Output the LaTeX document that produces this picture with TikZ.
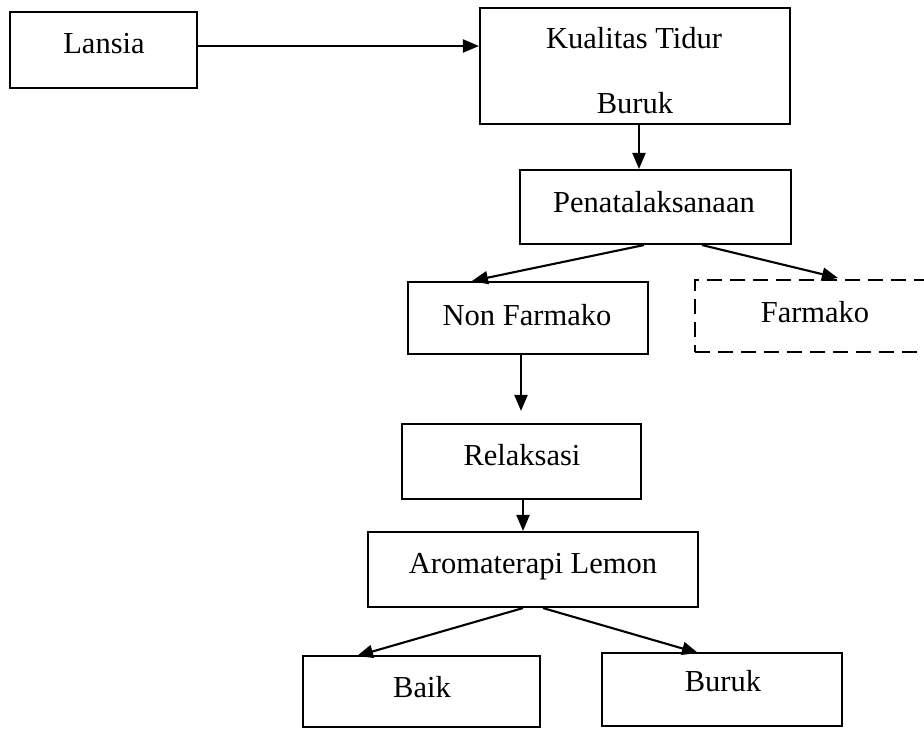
\documentclass[tikz,border=0pt]{standalone}
\usepackage{fontspec}
\setmainfont{Liberation Serif}
\usetikzlibrary{arrows.meta}
\begin{document}
\begin{tikzpicture}[x=1pt,y=-1pt,
  box/.style={draw, line width=2.1pt, rectangle, inner sep=0pt},
  dbox/.style={box, dash pattern=on 15pt off 8pt},
  lbl/.style={anchor=base, inner sep=0pt, font=\fontsize{30.5}{34}\selectfont},
  arr/.style={line width=2.1pt, -{Triangle[length=16pt,width=13pt]}}]
\useasboundingbox (0,0) rectangle (924,729);
\clip (0,0) rectangle (924,729);
\fill[white] (0,0) rectangle (924,729);
% boxes
\node[box, minimum width=187pt, minimum height=76pt] (lansia) at (103.5,50) {};
\node[box, minimum width=310pt, minimum height=116pt] (kual) at (635,66) {};
\node[box, minimum width=271pt, minimum height=74pt] (pena) at (655.5,207) {};
\node[box, minimum width=240pt, minimum height=72pt] (nonf) at (528,318) {};
\node[dbox, minimum width=265pt, minimum height=72pt] (farm) at (827.5,316) {};
\node[box, minimum width=239pt, minimum height=75pt] (relak) at (521.5,461.5) {};
\node[box, minimum width=330pt, minimum height=75pt] (aroma) at (533,569.5) {};
\node[box, minimum width=237pt, minimum height=71pt] (baik) at (421.5,691.5) {};
\node[box, minimum width=240pt, minimum height=73pt] (buruk) at (722,689.5) {};
% labels
\node[lbl] (tlansia) at (104,53) {Lansia};
\node[lbl] (tkual) at (634,48) {Kualitas Tidur};
\node[lbl] (tkual2) at (635,113) {Buruk};
\node[lbl] (tpena) at (654,212) {Penatalaksanaan};
\node[lbl] (tnonf) at (527,325) {Non Farmako};
\node[lbl] (tfarm) at (815,322) {Farmako};
\node[lbl] (trelak) at (522,465) {Relaksasi};
\node[lbl] (taroma) at (533,573) {Aromaterapi Lemon};
\node[lbl] (tbaik) at (422,697) {Baik};
\node[lbl] (tburuk) at (723,691) {Buruk};
% connectors
\coordinate (a1) at ([yshift=4pt]lansia.east);
\draw[arr] (a1) -- (a1 -| kual.west);
\coordinate (a2) at ([xshift=4pt]kual.south);
\draw[arr] (a2) -- (a2 |- pena.north);
\draw[arr] ([xshift=-11.5pt]pena.south) -- ([xshift=-56pt]nonf.north);
\draw[arr] ([xshift=46.5pt]pena.south) -- ([xshift=10.5pt,yshift=1pt]farm.north);
\coordinate (a5) at ([xshift=-7pt]nonf.south);
\draw[arr] (a5) -- ([yshift=12pt]a5 |- relak.north);
\draw[arr] ([xshift=1.5pt]relak.south) -- ([xshift=-10pt]aroma.north);
\draw[arr] ([xshift=-10pt]aroma.south) -- ([xshift=-64.5pt,yshift=-1pt]baik.north);
\draw[arr] ([xshift=10pt]aroma.south) -- ([xshift=-24pt,yshift=-1pt]buruk.north);
\end{tikzpicture}
\end{document}
